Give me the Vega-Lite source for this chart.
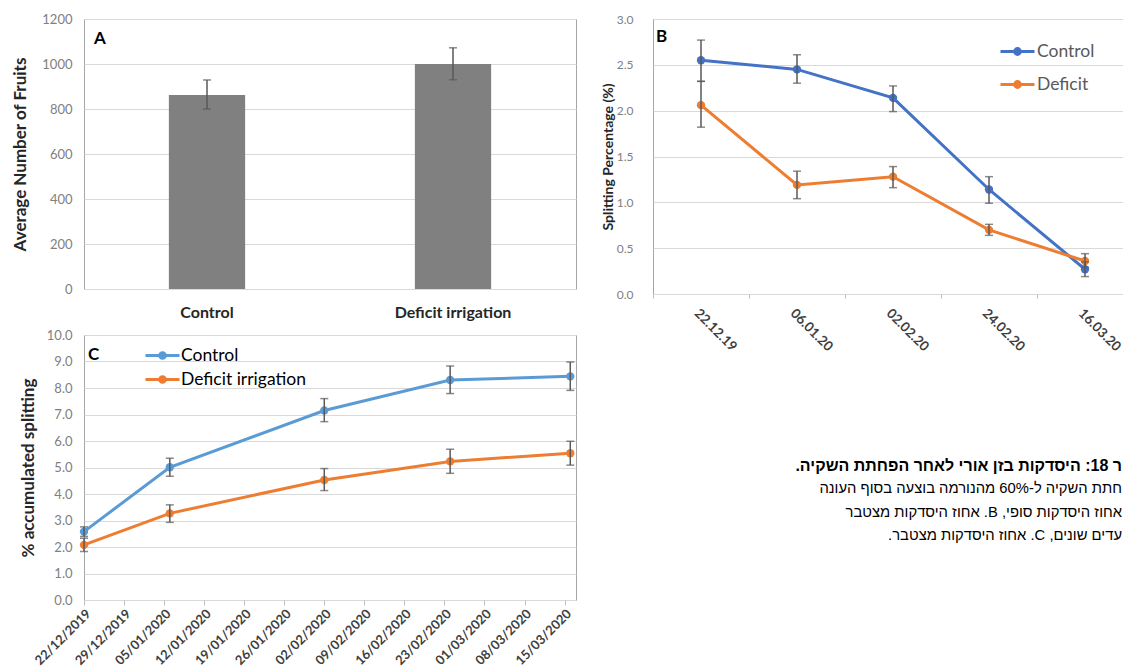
{
  "$schema": "https://vega.github.io/schema/vega-lite/v6.json",
  "background": "white",
  "padding": {"left": 10, "top": 12, "right": 0, "bottom": 0},
  "config": {
    "font": "Lato",
    "view": {"stroke": "#a6a6a6", "strokeWidth": 1},
    "axis": {
      "gridColor": "#d9d9d9",
      "domain": false,
      "tickColor": "#bfbfbf",
      "labelColor": "#808080",
      "titleColor": "#262626",
      "labelFont": "Lato",
      "titleFont": "Lato",
      "titleFontWeight": "bold"
    },
    "title": {"font": "Lato"},
    "legend": {"labelFont": "Lato", "padding": 0}
  },
  "datasets": {
    "a": [
      {"treatment": "Control", "mean": 862, "lo": 800, "hi": 929},
      {"treatment": "Deficit irrigation", "mean": 1000, "lo": 930, "hi": 1072}
    ],
    "b": [
      {"date": "22.12.19", "series": "Control", "value": 2.55, "lo": 2.32, "hi": 2.77},
      {"date": "06.01.20", "series": "Control", "value": 2.45, "lo": 2.30, "hi": 2.61},
      {"date": "02.02.20", "series": "Control", "value": 2.14, "lo": 1.99, "hi": 2.27},
      {"date": "24.02.20", "series": "Control", "value": 1.14, "lo": 0.99, "hi": 1.28},
      {"date": "16.03.20", "series": "Control", "value": 0.27, "lo": 0.19, "hi": 0.35},
      {"date": "22.12.19", "series": "Deficit", "value": 2.06, "lo": 1.82, "hi": 2.32},
      {"date": "06.01.20", "series": "Deficit", "value": 1.19, "lo": 1.04, "hi": 1.34},
      {"date": "02.02.20", "series": "Deficit", "value": 1.28, "lo": 1.16, "hi": 1.39},
      {"date": "24.02.20", "series": "Deficit", "value": 0.70, "lo": 0.64, "hi": 0.76},
      {"date": "16.03.20", "series": "Deficit", "value": 0.36, "lo": 0.29, "hi": 0.44}
    ],
    "c": [
      {"date": "2019-12-22", "series": "Control", "value": 2.58, "lo": 2.40, "hi": 2.76},
      {"date": "2020-01-06", "series": "Control", "value": 5.01, "lo": 4.67, "hi": 5.35},
      {"date": "2020-02-02", "series": "Control", "value": 7.15, "lo": 6.73, "hi": 7.60},
      {"date": "2020-02-24", "series": "Control", "value": 8.30, "lo": 7.79, "hi": 8.83},
      {"date": "2020-03-16", "series": "Control", "value": 8.44, "lo": 7.91, "hi": 8.98},
      {"date": "2019-12-22", "series": "Deficit irrigation", "value": 2.08, "lo": 1.83, "hi": 2.33},
      {"date": "2020-01-06", "series": "Deficit irrigation", "value": 3.27, "lo": 2.93, "hi": 3.59},
      {"date": "2020-02-02", "series": "Deficit irrigation", "value": 4.53, "lo": 4.13, "hi": 4.96},
      {"date": "2020-02-24", "series": "Deficit irrigation", "value": 5.23, "lo": 4.78, "hi": 5.69},
      {"date": "2020-03-16", "series": "Deficit irrigation", "value": 5.54, "lo": 5.09, "hi": 5.99}
    ],
    "caption": [
      {"line": 1, "text": "\u202Bר 18: היסדקות בזן אורי לאחר הפחתת השקיה.\u202C"},
      {"line": 2, "text": "\u202Bחתת השקיה ל-60% מהנורמה בוצעה בסוף העונה\u202C"},
      {"line": 3, "text": "\u202Bאחוז היסדקות סופי, B. אחוז היסדקות מצטבר\u202C"},
      {"line": 4, "text": "\u202Bעדים שונים, C. אחוז היסדקות מצטבר.\u202C"}
    ]
  },
  "resolve": {
    "scale": {"color": "independent"},
    "legend": {"color": "independent"}
  },
  "spacing": 23,
  "hconcat": [
    {
      "spacing": 7,
      "resolve": {"scale": {"color": "independent"}},
      "vconcat": [
        {
          "width": 492,
          "height": 270,
          "data": {"name": "a"},
          "title": {"text": "A", "anchor": "start", "frame": "group", "baseline": "top", "dx": 10, "dy": 39, "fontSize": 17, "fontWeight": "bold", "color": "#000000"},
          "encoding": {
            "x": {
              "field": "treatment", "type": "nominal", "sort": null,
              "scale": {"paddingInner": 0.69, "paddingOuter": 0.345},
              "axis": {"title": null, "labelAngle": 0, "ticks": false, "labelPadding": 15, "labelFontSize": 16, "labelFontWeight": "bold", "labelColor": "#262626"}
            }
          },
          "layer": [
            {
              "mark": {"type": "bar", "color": "#808080"},
              "encoding": {
                "y": {
                  "field": "mean", "type": "quantitative",
                  "scale": {"domain": [0, 1200]},
                  "axis": {"title": "Average Number of Fruits", "values": [0, 200, 400, 600, 800, 1000, 1200], "format": "d", "ticks": false, "labelFontSize": 13, "labelPadding": 12, "titleFontSize": 17, "titlePadding": 12.5}
                }
              }
            },
            {
              "mark": {"type": "errorbar", "ticks": true, "size": 8, "thickness": 1.5, "color": "#595959"},
              "encoding": {
                "y": {"field": "lo", "type": "quantitative", "axis": {"title": "Average Number of Fruits", "values": [0, 200, 400, 600, 800, 1000, 1200], "format": "d", "ticks": false, "labelFontSize": 13, "labelPadding": 12, "titleFontSize": 17, "titlePadding": 12.5}},
                "y2": {"field": "hi"}
              }
            }
          ]
        },
        {
          "width": 492,
          "height": 265,
          "data": {"name": "c"},
          "title": {"text": "C", "anchor": "start", "frame": "group", "baseline": "top", "dx": 4, "dy": 39, "fontSize": 17, "fontWeight": "bold", "color": "#000000"},
          "encoding": {
            "x": {
              "field": "date", "type": "temporal",
              "scale": {"type": "utc", "domain": [{"year": 2019, "month": 12, "date": 22, "utc": true}, {"year": 2020, "month": 3, "date": 17, "utc": true}]},
              "axis": {
                "title": null, "grid": false, "format": "%d/%m/%Y",
                "values": [
                  {"year": 2019, "month": 12, "date": 22, "utc": true},
                  {"year": 2019, "month": 12, "date": 29, "utc": true},
                  {"year": 2020, "month": 1, "date": 5, "utc": true},
                  {"year": 2020, "month": 1, "date": 12, "utc": true},
                  {"year": 2020, "month": 1, "date": 19, "utc": true},
                  {"year": 2020, "month": 1, "date": 26, "utc": true},
                  {"year": 2020, "month": 2, "date": 2, "utc": true},
                  {"year": 2020, "month": 2, "date": 9, "utc": true},
                  {"year": 2020, "month": 2, "date": 16, "utc": true},
                  {"year": 2020, "month": 2, "date": 23, "utc": true},
                  {"year": 2020, "month": 3, "date": 1, "utc": true},
                  {"year": 2020, "month": 3, "date": 8, "utc": true},
                  {"year": 2020, "month": 3, "date": 15, "utc": true}
                ],
                "labelAngle": -45, "labelFontSize": 13, "labelFontWeight": "bold", "labelColor": "#404040",
                "tickSize": 5, "labelPadding": 2, "labelOverlap": false
              }
            },
            "color": {
              "field": "series", "type": "nominal",
              "scale": {"domain": ["Control", "Deficit irrigation"], "range": ["#5B9BD5", "#ED7D31"]},
              "legend": {
                "title": null, "orient": "none", "legendX": 64, "legendY": 6,
                "symbolType": "M-1.31,0L1.31,0M-0.22,0A0.22,0.22,0,1,1,0.22,0A0.22,0.22,0,1,1,-0.22,0Z",
                "symbolSize": 676, "symbolStrokeWidth": 3,
                "symbolFillColor": {"expr": "datum.value == 'Control' ? '#5B9BD5' : '#ED7D31'"},
                "symbolStrokeColor": {"expr": "datum.value == 'Control' ? '#5B9BD5' : '#ED7D31'"},
                "labelFontSize": 17.5, "labelColor": "#000000", "labelOffset": 4, "rowPadding": 0
              }
            }
          },
          "layer": [
            {
              "mark": {"type": "line", "strokeWidth": 3, "point": {"filled": true, "size": 70}},
              "encoding": {
                "y": {
                  "field": "value", "type": "quantitative",
                  "scale": {"domain": [0, 10]},
                  "axis": {"title": "% accumulated splitting", "values": [0, 1, 2, 3, 4, 5, 6, 7, 8, 9, 10], "format": ".1f", "ticks": false, "labelFontSize": 13, "labelPadding": 12, "titleFontSize": 17, "titlePadding": 9}
                }
              }
            },
            {
              "mark": {"type": "errorbar", "ticks": true, "size": 8, "thickness": 1.5},
              "encoding": {
                "y": {"field": "lo", "type": "quantitative", "axis": {"title": "% accumulated splitting", "values": [0, 1, 2, 3, 4, 5, 6, 7, 8, 9, 10], "format": ".1f", "ticks": false, "labelFontSize": 13, "labelPadding": 12, "titleFontSize": 17, "titlePadding": 9}},
                "y2": {"field": "hi"},
                "color": {"value": "#595959"}
              }
            }
          ]
        }
      ]
    },
    {
      "spacing": 100,
      "resolve": {"scale": {"color": "independent"}},
      "vconcat": [
        {
          "width": 480,
          "height": 275,
          "data": {"name": "b"},
          "title": {"text": "B", "anchor": "start", "frame": "group", "baseline": "top", "dx": 3, "dy": 37, "fontSize": 17, "fontWeight": "bold", "color": "#000000"},
          "encoding": {
            "x": {
              "field": "date", "type": "nominal", "sort": null,
              "scale": {"type": "band", "paddingInner": 0, "paddingOuter": 0},
              "axis": {"title": null, "labelAngle": 45, "labelFontSize": 13.5, "labelFontWeight": "bold", "labelColor": "#404040", "tickBand": "extent", "tickSize": 4, "labelPadding": 8}
            },
            "color": {
              "field": "series", "type": "nominal",
              "scale": {"domain": ["Control", "Deficit"], "range": ["#4472C4", "#ED7D31"]},
              "legend": {
                "title": null, "orient": "none", "legendX": 346, "legendY": 14,
                "symbolType": "M-1,0L1,0M-0.17,0A0.17,0.17,0,1,1,0.17,0A0.17,0.17,0,1,1,-0.17,0Z",
                "symbolSize": 1156, "symbolStrokeWidth": 3,
                "symbolFillColor": {"expr": "datum.value == 'Control' ? '#4472C4' : '#ED7D31'"},
                "symbolStrokeColor": {"expr": "datum.value == 'Control' ? '#4472C4' : '#ED7D31'"},
                "labelFontSize": 17.5, "labelColor": "#595959", "labelOffset": 1, "rowPadding": 5
              }
            }
          },
          "layer": [
            {
              "mark": {"type": "line", "strokeWidth": 3, "point": {"filled": true, "size": 70}},
              "encoding": {
                "y": {
                  "field": "value", "type": "quantitative",
                  "scale": {"domain": [0, 3]},
                  "axis": {"title": "Splitting Percentage (%)", "values": [0, 0.5, 1, 1.5, 2, 2.5, 3], "format": ".1f", "ticks": false, "labelFontSize": 12, "labelPadding": 20, "titleFontSize": 14, "titlePadding": 1}
                }
              }
            },
            {
              "mark": {"type": "errorbar", "ticks": true, "size": 8, "thickness": 1.5},
              "encoding": {
                "y": {"field": "lo", "type": "quantitative", "axis": {"title": "Splitting Percentage (%)", "values": [0, 0.5, 1, 1.5, 2, 2.5, 3], "format": ".1f", "ticks": false, "labelFontSize": 12, "labelPadding": 20, "titleFontSize": 14, "titlePadding": 1}},
                "y2": {"field": "hi"},
                "color": {"value": "#595959"}
              }
            }
          ]
        },
        {
          "width": 469,
          "height": 94,
          "data": {"name": "caption"},
          "view": {"stroke": null},
          "encoding": {
            "y": {"field": "line", "type": "ordinal", "scale": {"paddingInner": 0, "paddingOuter": 0}, "axis": null},
            "x": {"value": "width"},
            "text": {"field": "text"}
          },
          "layer": [
            {
              "transform": [{"filter": "datum.line == 1"}],
              "mark": {"type": "text", "align": "right", "baseline": "middle", "font": "Liberation Sans", "fontSize": 16, "fontWeight": "bold", "color": "#000000"}
            },
            {
              "transform": [{"filter": "datum.line > 1"}],
              "mark": {"type": "text", "align": "right", "baseline": "middle", "font": "Liberation Sans", "fontSize": 14.8, "color": "#000000"}
            }
          ]
        }
      ]
    }
  ]
}
